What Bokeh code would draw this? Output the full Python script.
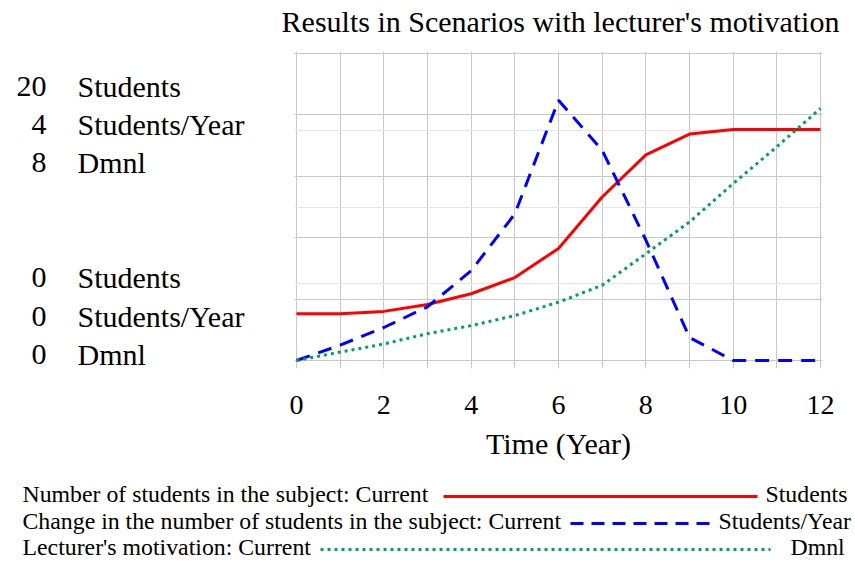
from bokeh.plotting import figure
from bokeh.layouts import column, row
from bokeh.models import (Range1d, FixedTicker, Grid, Label, Arrow)
from bokeh.embed import file_html
from bokeh.resources import INLINE

# ---------------- data ----------------
years = [0, 1, 2, 3, 4, 5, 6, 7, 8, 9, 10, 11, 12]
students = [3.05, 3.05, 3.2, 3.65, 4.35, 5.4, 7.3, 10.65, 13.4, 14.75, 15.05, 15.05, 15.05]
change = [0.0, 0.2, 0.43, 0.7, 1.17, 1.91, 3.39, 2.74, 1.57, 0.3, 0.0, 0.0, 0.0]
motivation = [0.0, 0.22, 0.43, 0.7, 0.91, 1.17, 1.52, 1.96, 2.78, 3.61, 4.61, 5.57, 6.57]
x_ticks = [0, 2, 4, 6, 8, 10, 12]
students_grid = [0, 4, 8, 12, 16, 20]
students_max, change_max, motivation_max = 20, 4, 8
title_text = "Results in Scenarios with lecturer's motivation"
series_names = ["Number of students in the subject: Current",
                "Change in the number of students in the subject: Current",
                "Lecturer's motivation: Current"]
series_units = ["Students", "Students/Year", "Dmnl"]

# ---------------- styles ----------------
W, H = 855, 562
TOP_H = 51          # title strip
MID_H = 429         # plot row
LEG_H = H - TOP_H - MID_H
LEFT_W = 286
FONT = "Liberation Serif"
BIG, TICK, SMALL = 30, 28, 23.8
RED, BLUE, GREEN = "#ff0000", "#0000ff", "#00a060"
GRID = "#c8c8c8"
pad_top, pad_bot, pad_x = 2, 8, 2
frame_w, frame_h = 524, 307  # grid box size in px
xpad = 12 * pad_x / frame_w
FRAME_BOTTOM = TOP_H + pad_top + frame_h + pad_bot   # page y of frame bottom


def yr(top):
    return Range1d(-top * pad_bot / frame_h, top + top * pad_top / frame_h)


def blank(w, h):
    f = figure(width=w, height=h, output_backend="svg", toolbar_location=None,
               x_axis_location=None, y_axis_location=None, title=None,
               x_range=Range1d(0, 1), y_range=Range1d(0, 1),
               min_border=0, min_border_left=0, min_border_right=0,
               min_border_top=0, min_border_bottom=0)
    f.outline_line_color = None
    f.grid.visible = False
    f.background_fill_color = "white"
    f.border_fill_color = "white"
    return f


def lab(f, frame_bottom, x, baseline, text, size, align="left"):
    # baseline in page px; label y is measured up from the frame bottom
    f.add_layout(Label(x=x, y=frame_bottom - baseline + 0.4 * size,
                       x_units="screen", y_units="screen", text=text,
                       text_font=FONT, text_font_size=f"{size}px", text_align=align,
                       text_baseline="alphabetic", text_color="black"))


# ---- title strip ----
top = blank(W, TOP_H)
lab(top, TOP_H, 560, 33, title_text, BIG, "center")

# ---- left scale labels ----
left = blank(LEFT_W, MID_H)
top_vals = [students_max, change_max, motivation_max]
top_base = [98, 136, 174]
bot_base = [289, 328, 366]
for i, u in enumerate(series_units):
    lab(left, FRAME_BOTTOM, 46, top_base[i], str(top_vals[i]), BIG, "right")
    lab(left, FRAME_BOTTOM, 77, top_base[i], u, BIG)
    lab(left, FRAME_BOTTOM, 46, bot_base[i], "0", BIG, "right")
    lab(left, FRAME_BOTTOM, 77, bot_base[i], u, BIG)

# ---- main plot ----
MAIN_W = W - LEFT_W
mb_left = 8
mb_right = MAIN_W - mb_left - frame_w - 2 * pad_x
mb_bottom = MID_H - frame_h - pad_top - pad_bot
p = figure(width=MAIN_W, height=MID_H, output_backend="svg", toolbar_location=None,
           x_range=Range1d(-xpad, 12 + xpad), y_range=yr(students_max),
           y_axis_location=None, title=None,
           min_border_left=mb_left, min_border_right=mb_right,
           min_border_top=0, min_border_bottom=mb_bottom)
p.extra_y_ranges = {"rate": yr(change_max), "dmnl": yr(motivation_max)}
p.outline_line_color = None
p.background_fill_color = "white"
p.border_fill_color = "white"

p.xgrid.ticker = FixedTicker(ticks=years)
p.xgrid.grid_line_color = GRID
p.xgrid.grid_line_width = 1
p.add_layout(Grid(dimension=1, ticker=FixedTicker(ticks=students_grid),
                  grid_line_color=GRID, grid_line_width=1))

ax = p.xaxis[0]
ax.ticker = FixedTicker(ticks=x_ticks)
ax.axis_line_color = None
ax.major_tick_line_color = None
ax.minor_tick_line_color = None
ax.major_tick_out = 0
ax.major_tick_in = 0
ax.major_label_standoff = 27
ax.major_label_text_font = FONT
ax.major_label_text_font_size = f"{TICK}px"
ax.major_label_text_color = "black"
ax.axis_label = "Time (Year)"
ax.axis_label_text_font = FONT
ax.axis_label_text_font_size = f"{BIG}px"
ax.axis_label_text_font_style = "normal"
ax.axis_label_text_color = "black"
ax.axis_label_standoff = 10

p.line(years, students, line_color=RED, line_width=3)
p.line(years, change, line_color=BLUE, line_width=3, line_dash="14 9", y_range_name="rate")
p.line(years, motivation, line_color=GREEN, line_width=3, line_dash="3 4", y_range_name="dmnl")

# ---- legend strip ----
leg = blank(W, LEG_H)
leg_base = [503, 530, 556]
unit_x = [765, 718, 790]
swatch = [(443, 757, RED, "solid"), (570, 712, BLUE, "13 8"), (320, 770, GREEN, "3 4")]
for i in range(3):
    lab(leg, H, 22, leg_base[i], series_names[i], SMALL)
    lab(leg, H, unit_x[i], leg_base[i], series_units[i], SMALL)
    x0, x1, c, d = swatch[i]
    yy = H - (leg_base[i] - 7)
    leg.add_layout(Arrow(x_start=x0, y_start=yy, x_end=x1, y_end=yy, start_units="screen",
                         end_units="screen", end=None, start=None, line_color=c,
                         line_width=3, line_dash=d))

layout = column(top, row(left, p), leg)
open("out.html", "w").write(file_html(layout, INLINE))
